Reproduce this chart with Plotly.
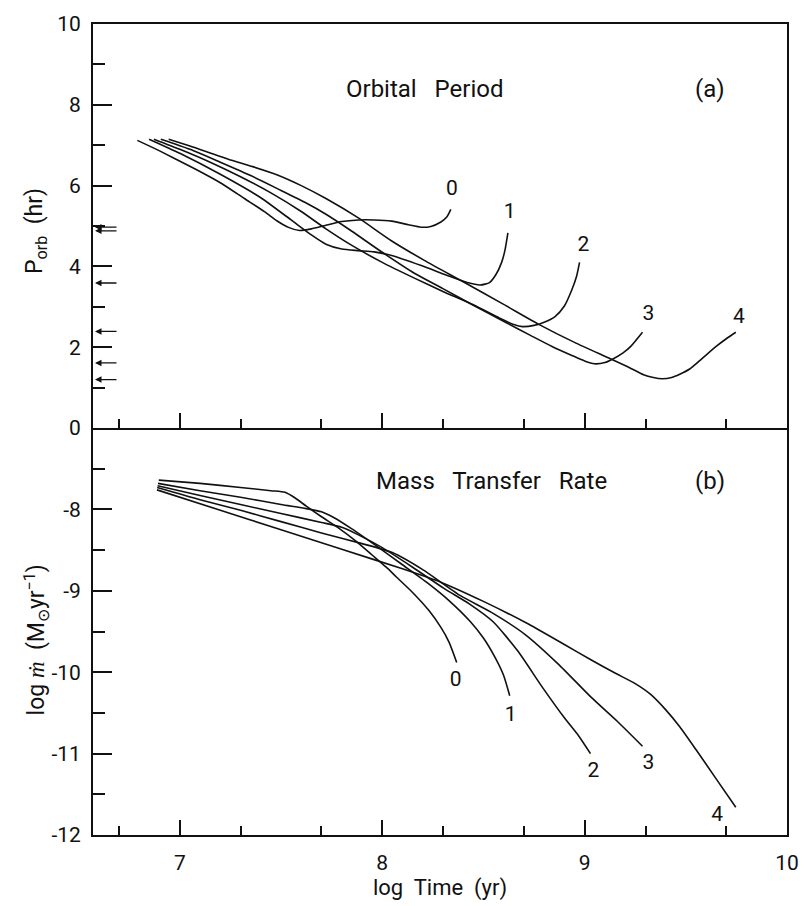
import plotly.graph_objects as go
from plotly.subplots import make_subplots

# ---------------- axis settings ----------------
t_range = [6.571, 10.0]
t_major = [7, 8, 9, 10]
t_minor = [6.699, 7.301, 7.699, 8.301, 8.699, 9.301, 9.699]

p_range = [0, 10]
p_major = [0, 2, 4, 6, 8, 10]
p_minor = [1, 3, 5, 7, 9]

m_range = [-12, -7]
m_major = [-8, -9, -10, -11, -12]
m_minor = [-7.5, -8.5, -9.5, -10.5, -11.5]

# ---------------- (a) orbital period tracks, hr ----------------
porb_t0 = [6.790, 6.90, 7.076, 7.20, 7.319, 7.42, 7.479, 7.54, 7.591, 7.65, 7.722,
           7.80, 7.882, 7.96, 8.047, 8.13, 8.193, 8.24, 8.29, 8.319, 8.339]
porb_p0 = [7.12, 6.86, 6.41, 6.07, 5.68, 5.35, 5.13, 4.96, 4.89, 4.93, 5.02,
           5.11, 5.15, 5.15, 5.12, 5.03, 4.97, 4.99, 5.10, 5.22, 5.41]

porb_t1 = [6.848, 7.00, 7.20, 7.40, 7.55, 7.65, 7.722, 7.80, 7.882, 7.96, 8.047,
           8.193, 8.319, 8.42, 8.485, 8.53, 8.562, 8.59, 8.606, 8.621]
porb_p1 = [7.15, 6.80, 6.28, 5.70, 5.15, 4.78, 4.55, 4.43, 4.39, 4.36, 4.27,
           4.02, 3.78, 3.60, 3.54, 3.60, 3.80, 4.10, 4.39, 4.83]

porb_t2 = [6.872, 7.00, 7.15, 7.30, 7.45, 7.60, 7.722, 7.85, 8.00, 8.159, 8.30,
           8.45, 8.58, 8.65, 8.693, 8.75, 8.80, 8.854, 8.90, 8.936, 8.96, 8.975]
porb_p2 = [7.15, 6.90, 6.58, 6.22, 5.82, 5.36, 4.93, 4.52, 4.10, 3.71, 3.38,
           3.05, 2.72, 2.56, 2.51, 2.54, 2.62, 2.76, 3.02, 3.41, 3.75, 4.10]

porb_t3 = [6.906, 7.05, 7.20, 7.35, 7.50, 7.62, 7.722, 7.85, 8.00, 8.159, 8.30,
           8.45, 8.611, 8.73, 8.839, 8.94, 9.00, 9.048, 9.10, 9.140, 9.19, 9.228, 9.286]
porb_p3 = [7.15, 6.90, 6.58, 6.25, 5.88, 5.58, 5.29, 4.87, 4.35, 3.83, 3.45,
           3.04, 2.61, 2.30, 2.02, 1.79, 1.66, 1.59, 1.62, 1.71, 1.86, 2.02, 2.37]

porb_t4 = [6.945, 7.05, 7.236, 7.36, 7.479, 7.60, 7.722, 7.882, 8.047, 8.208, 8.40,
           8.60, 8.776, 8.95, 9.130, 9.22, 9.291, 9.34, 9.383, 9.43, 9.47, 9.519,
           9.58, 9.650, 9.70, 9.747]
porb_p4 = [7.15, 6.98, 6.66, 6.47, 6.27, 6.00, 5.68, 5.20, 4.63, 4.15, 3.62,
           3.06, 2.56, 2.12, 1.71, 1.50, 1.32, 1.25, 1.22, 1.25, 1.33, 1.46,
           1.72, 2.02, 2.21, 2.37]

# ---------------- (b) log mass transfer rate tracks ----------------
mdot_t0 = [6.896, 7.10, 7.30, 7.45, 7.52, 7.57, 7.625, 7.70, 7.785, 7.87, 7.95,
           8.02, 8.07, 8.15, 8.23, 8.29, 8.33, 8.368]
mdot_m0 = [-7.64, -7.68, -7.73, -7.77, -7.79, -7.86, -7.96, -8.09, -8.23, -8.39, -8.56,
           -8.71, -8.83, -9.02, -9.24, -9.45, -9.63, -9.88]

mdot_t1 = [6.892, 7.10, 7.30, 7.50, 7.625, 7.70, 7.76, 7.85, 8.00, 8.10, 8.222,
           8.33, 8.436, 8.50, 8.56, 8.60, 8.63]
mdot_m1 = [-7.68, -7.77, -7.85, -7.94, -7.99, -8.03, -8.10, -8.24, -8.50, -8.68, -8.90,
           -9.12, -9.38, -9.58, -9.83, -10.04, -10.29]

mdot_t2 = [6.890, 7.10, 7.30, 7.50, 7.70, 7.80, 7.88, 8.00, 8.15, 8.305, 8.43,
           8.548, 8.67, 8.79, 8.90, 8.97, 9.029]
mdot_m2 = [-7.71, -7.83, -7.94, -8.05, -8.16, -8.22, -8.31, -8.47, -8.71, -8.97, -9.16,
           -9.38, -9.74, -10.18, -10.56, -10.78, -11.00]

mdot_t3 = [6.888, 7.10, 7.30, 7.50, 7.70, 7.90, 8.05, 8.20, 8.387, 8.55, 8.708,
           8.87, 9.033, 9.16, 9.286]
mdot_m3 = [-7.73, -7.88, -8.01, -8.15, -8.29, -8.42, -8.53, -8.74, -9.06, -9.28, -9.54,
           -9.90, -10.31, -10.60, -10.91]

mdot_t4 = [6.887, 7.20, 7.50, 7.80, 8.10, 8.295, 8.50, 8.708, 8.90, 9.033, 9.15,
           9.25, 9.325, 9.40, 9.47, 9.55, 9.65, 9.747]
mdot_m4 = [-7.76, -8.01, -8.25, -8.49, -8.73, -8.90, -9.13, -9.39, -9.66, -9.85, -10.01,
           -10.14, -10.27, -10.46, -10.67, -10.95, -11.31, -11.66]

# ---------------- curve labels ----------------
track_names = ["0", "1", "2", "3", "4"]
porb_label_t = [8.344, 8.630, 8.994, 9.315, 9.762]
porb_label_p = [5.90, 5.32, 4.51, 2.80, 2.73]
mdot_label_t = [8.363, 8.635, 9.043, 9.315, 9.655]
mdot_label_m = [-10.10, -10.54, -11.22, -11.12, -11.76]

# observed orbital periods marked on the period axis (hr)
observed_periods = [4.97, 4.88, 3.59, 2.39, 1.61, 1.20]

porb_tracks = [(porb_t0, porb_p0), (porb_t1, porb_p1), (porb_t2, porb_p2),
               (porb_t3, porb_p3), (porb_t4, porb_p4)]
mdot_tracks = [(mdot_t0, mdot_m0), (mdot_t1, mdot_m1), (mdot_t2, mdot_m2),
               (mdot_t3, mdot_m3), (mdot_t4, mdot_m4)]

FONT = "Roboto"
INK = "#111111"
TICK_W = 1.6

fig = make_subplots(rows=2, cols=1, shared_xaxes=False, vertical_spacing=0.0,
                    row_heights=[410, 413])

line_style = dict(color=INK, width=1.6, shape="spline", smoothing=0.6)
for t, p in porb_tracks:
    fig.add_trace(go.Scatter(x=t, y=p, mode="lines", line=line_style,
                             showlegend=False, hoverinfo="skip"), row=1, col=1)
for t, m in mdot_tracks:
    fig.add_trace(go.Scatter(x=t, y=m, mode="lines", line=line_style,
                             showlegend=False, hoverinfo="skip"), row=2, col=1)

# track numbers
label_font = dict(family=FONT, size=21, color=INK)
fig.add_trace(go.Scatter(x=porb_label_t, y=porb_label_p, mode="text", text=track_names,
                         textfont=label_font, showlegend=False, hoverinfo="skip"),
              row=1, col=1)
fig.add_trace(go.Scatter(x=mdot_label_t, y=mdot_label_m, mode="text", text=track_names,
                         textfont=label_font, showlegend=False, hoverinfo="skip"),
              row=2, col=1)


def tick_style(major, minor, major_len, minor_len):
    return dict(tickmode="array", tickvals=major,
                ticks="inside", ticklen=major_len, tickwidth=TICK_W, tickcolor=INK,
                minor=dict(tickmode="array", tickvals=minor, ticks="inside",
                           ticklen=minor_len, tickwidth=TICK_W, tickcolor=INK),
                showgrid=False, zeroline=False)


x_ticks = tick_style(t_major, t_minor, 15, 9)
p_ticks = tick_style(p_major, p_minor, 19, 12)
m_ticks = tick_style(m_major, m_minor, 19, 12)

tick_font = dict(family=FONT, size=21, color=INK)
frame = dict(showline=True, linewidth=1.8, linecolor=INK, mirror=True)

# top panel draws the shared divider line; the lower panel only its bottom edge
fig.update_xaxes(range=t_range, **x_ticks, **frame, showticklabels=False, row=1, col=1)
fig.update_xaxes(range=t_range, **x_ticks, showline=True, linewidth=1.8, linecolor=INK,
                 mirror=False, showticklabels=True,
                 tickfont=tick_font, ticklabelstandoff=8,
                 title=dict(text="log  Time  (yr)", standoff=4,
                            font=dict(family=FONT, size=22, color=INK)),
                 row=2, col=1)
fig.update_yaxes(range=p_range, **p_ticks, **frame, tickfont=tick_font,
                 ticklabelstandoff=6, row=1, col=1)
fig.update_yaxes(range=m_range, **m_ticks, **frame, tickfont=tick_font,
                 ticktext=[str(v) for v in m_major], ticklabelstandoff=6,
                 row=2, col=1)

# tick marks along the top and right edges of both panels
blank = dict(showticklabels=False, showline=False)
fig.update_layout(
    xaxis3=dict(overlaying="x", anchor="y", side="top", range=t_range, **x_ticks, **blank),
    xaxis4=dict(overlaying="x2", anchor="y2", side="top", range=t_range, **x_ticks, **blank),
    yaxis3=dict(overlaying="y", anchor="x", side="right", range=p_range, **p_ticks, **blank),
    yaxis4=dict(overlaying="y2", anchor="x2", side="right", range=m_range, **m_ticks, **blank),
)

title_font = dict(family=FONT, size=24, color=INK)
annotations = [
    dict(text="Orbital   Period", x=0.477, y=8.4, xref="x domain", yref="y",
         showarrow=False, font=title_font),
    dict(text="(a)", x=0.913, y=8.4, xref="x domain", yref="y",
         showarrow=False, font=title_font),
    dict(text="Mass   Transfer   Rate", x=0.574, y=-7.65, xref="x2 domain", yref="y2",
         showarrow=False, font=title_font),
    dict(text="(b)", x=0.913, y=-7.65, xref="x2 domain", yref="y2",
         showarrow=False, font=title_font),
    dict(text="P<sub>orb</sub>  (hr)", x=-0.082, y=0.745, xref="paper", yref="paper",
         xanchor="center", yanchor="middle", textangle=-90, showarrow=False,
         font=dict(family=FONT, size=23, color=INK)),
    dict(text="log <i>ṁ</i>  (M<sub>⊙</sub>yr<sup>−1</sup>)", x=-0.082, y=0.24,
         xref="paper", yref="paper", xanchor="center", yanchor="middle",
         textangle=-90, showarrow=False, font=dict(family=FONT, size=23, color=INK)),
]
for p in observed_periods:
    annotations.append(dict(x=t_range[0], y=p, xref="x", yref="y", text="",
                            showarrow=True, ax=25, ay=0, arrowhead=2, arrowsize=1.0,
                            arrowwidth=1.3, arrowcolor=INK, standoff=2))

fig.update_layout(width=811, height=906,
                  margin=dict(l=93, r=12, t=20, b=63),
                  paper_bgcolor="white", plot_bgcolor="white",
                  annotations=annotations,
                  font=dict(family=FONT, color=INK))

fig.write_html("out.html")
